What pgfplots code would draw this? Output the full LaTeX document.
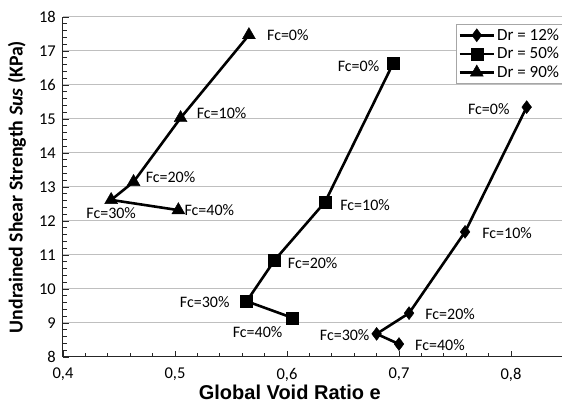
\documentclass[border=0pt]{standalone}
\usepackage{pgfplots}
\pgfplotsset{compat=1.18}
\usepackage{fontspec}
\setmainfont{Carlito}
\newfontfamily\arialb{Liberation Sans}
\tikzset{lbl/.style={font=\fontsize{16}{18}\selectfont, inner sep=0pt}}
\begin{document}
\begin{tikzpicture}
\useasboundingbox (-63pt,-47pt) rectangle (499pt,357pt);
\begin{axis}[
 at={(0,0)}, anchor=south west,
 scale only axis, width=504pt, height=340pt,
 xmin=0.4, xmax=0.85, ymin=8, ymax=18,
 clip=false,
 axis lines*=left, axis line style={-, black!85, line width=1pt},
 xtick={0.4,0.5,0.6,0.7,0.8}, xticklabels={{0,4},{0,5},{0,6},{0,7},{0,8}},
 ytick={8,...,18},
 minor x tick num=4, minor y tick num=4,
 tick align=inside, major tick length=6pt, minor tick length=4pt,
 tick style={black!85, line width=0.8pt},
 ymajorgrids, major grid style={gray!50, line width=1pt},
 /pgf/number format/assume math mode=true,
 ticklabel style={font=\fontsize{16.5}{18}\selectfont, inner sep=0pt},
 xticklabel shift=11pt, yticklabel shift=7pt,
 xlabel={Global Void Ratio e},
 xlabel style={at={(axis description cs:0.45,-0.105)}, anchor=center, font=\arialb\bfseries\fontsize{20}{22}\selectfont},
 ylabel={Undrained Shear Strength \textit{Sus} (KPa)},
 ylabel style={at={(axis description cs:-0.0913,0.5)}, anchor=center, font=\bfseries\fontsize{19.8}{22}\selectfont},
 legend style={at={(axis cs:0.8473,17.8)}, anchor=north east, draw=gray!70, line width=0.8pt, font=\fontsize{17}{19}\selectfont, inner sep=2.5pt, row sep=1.5pt},
 legend cell align=left,
 legend image code/.code={\draw[mark repeat=2,mark phase=2] plot coordinates {(0cm,0cm)(0.6cm,0cm)(1.2cm,0cm)};},
]
\addplot[black, line width=2.6pt, mark=diamond*, mark size=6.5pt, mark options={solid, line width=0.4pt}] coordinates {(0.814,15.35)(0.759,11.68)(0.709,9.29)(0.680,8.68)(0.700,8.38)};
\addlegendentry{Dr = 12\%}
\addplot[black, line width=2.6pt, mark=square*, mark size=6pt, mark options={solid, line width=0.4pt}] coordinates {(0.695,16.65)(0.634,12.56)(0.589,10.85)(0.564,9.64)(0.605,9.15)};
\addlegendentry{Dr = 50\%}
\addplot[black, line width=2.6pt, mark=triangle*, mark size=7.5pt, mark options={solid, line width=0.4pt}] coordinates {(0.566,17.47)(0.505,15.03)(0.463,13.15)(0.443,12.62)(0.503,12.32)};
\addlegendentry{Dr = 90\%}
% Dr = 90%
\node[lbl, anchor=west, xshift=18pt] at (axis cs:0.566,17.47) {Fc=0\%};
\node[lbl, anchor=west, xshift=16pt, yshift=5pt] at (axis cs:0.505,15.03) {Fc=10\%};
\node[lbl, anchor=west, xshift=12pt, yshift=5pt] at (axis cs:0.463,13.15) {Fc=20\%};
\node[lbl, anchor=north, yshift=-7pt] at (axis cs:0.443,12.62) {Fc=30\%};
\node[lbl, anchor=west, xshift=6pt] at (axis cs:0.503,12.32) {Fc=40\%};
% Dr = 50%
\node[lbl, anchor=east, xshift=-14pt, yshift=-3pt] at (axis cs:0.695,16.65) {Fc=0\%};
\node[lbl, anchor=west, xshift=15pt, yshift=-3pt] at (axis cs:0.634,12.56) {Fc=10\%};
\node[lbl, anchor=west, xshift=13pt, yshift=-3pt] at (axis cs:0.589,10.85) {Fc=20\%};
\node[lbl, anchor=east, xshift=-17pt, yshift=-1pt] at (axis cs:0.564,9.64) {Fc=30\%};
\node[lbl, anchor=center, xshift=-35pt, yshift=-14pt] at (axis cs:0.605,9.15) {Fc=40\%};
% Dr = 12%
\node[lbl, anchor=east, xshift=-17pt, yshift=-2pt] at (axis cs:0.814,15.35) {Fc=0\%};
\node[lbl, anchor=west, xshift=17pt, yshift=-1pt] at (axis cs:0.759,11.68) {Fc=10\%};
\node[lbl, anchor=west, xshift=16pt, yshift=-1pt] at (axis cs:0.709,9.29) {Fc=20\%};
\node[lbl, anchor=east, xshift=-7pt, yshift=-1pt] at (axis cs:0.680,8.68) {Fc=30\%};
\node[lbl, anchor=west, xshift=16pt, yshift=-1pt] at (axis cs:0.700,8.38) {Fc=40\%};
\end{axis}
\end{tikzpicture}
\end{document}
